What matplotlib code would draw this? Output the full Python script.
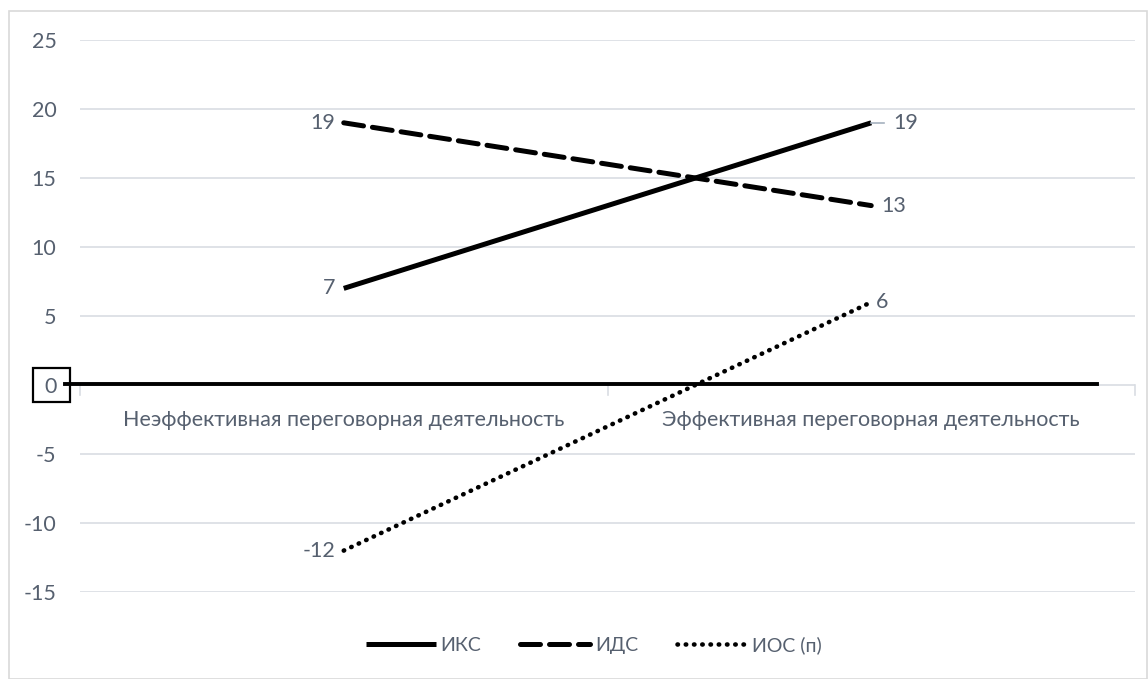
import matplotlib.pyplot as plt
from matplotlib.patches import Rectangle
from matplotlib.lines import Line2D

categories = ['Неэффективная переговорная деятельность', 'Эффективная переговорная деятельность']
iks = [7, 19]
ids = [19, 13]
ios = [-12, 6]
series_names = ['ИКС', 'ИДС', 'ИОС (п)']
yticks = [-15, -10, -5, 0, 5, 10, 15, 20, 25]

plt.rcParams['font.family'] = ['Lato', 'DejaVu Sans']
text_color = '#56606F'
grid_color = '#D9DDE3'
fs = 15.5

fig = plt.figure(figsize=(11.48, 6.79), dpi=100)
W, H = 1148, 679
ax = fig.add_axes([80 / W, 1 - 592 / H, (1135 - 80) / W, (592 - 40) / H])

x = [0, 1]
ax.plot(x, iks, color='black', lw=3.6, solid_capstyle='butt', label=series_names[0])
ax.plot(x, ids, color='black', lw=3.6, dashes=(4, 1.8), dash_capstyle='round', label=series_names[1])
ax.plot(x, ios, color='black', lw=3.3, dashes=(0.1, 1.7), dash_capstyle='round', label=series_names[2])

ax.set_xlim(-0.5, 1.5)
ax.set_ylim(-15, 25)
ax.set_yticks(yticks)
ax.set_yticklabels([str(v) for v in yticks], fontsize=fs, color=text_color)
ax.tick_params(axis='y', length=0, pad=17)
ax.set_xticks([])
ax.grid(axis='y', color=grid_color, lw=1.2)
ax.set_axisbelow(True)
for s in ax.spines.values():
    s.set_visible(False)

# category labels sit just under the zero axis
for xi, c in zip(x, categories):
    ax.text(xi, -2.5, c, ha='center', va='center', fontsize=fs, color=text_color)
for xt in [-0.5, 0.5, 1.5]:
    ax.plot([xt, xt], [0, -0.7], color=grid_color, lw=1.2, clip_on=False)

# data labels
for vals in (iks, ids, ios):
    ax.annotate(str(vals[0]), (0, vals[0]), xytext=(-6, 0), textcoords='offset points',
                ha='right', va='center', fontsize=fs, color=text_color)
for vals, off in ((iks, 16), (ids, 7), (ios, 3)):
    ax.annotate(str(vals[1]), (1, vals[1]), xytext=(off, 0), textcoords='offset points',
                ha='left', va='center', fontsize=fs, color=text_color)
ax.plot([1, 1.024], [iks[1], iks[1]], color='#A6B1BF', lw=1.2)

# thick black zero line and box around the 0 label, drawn over the figure
fig.add_artist(Line2D([65 / W, 1097 / W], [1 - 384 / H] * 2, color='black', lw=2.8))
fig.add_artist(Rectangle((33 / W, 1 - 402 / H), 37 / W, 34 / H, fill=False,
                         edgecolor='black', lw=1.6))

# outer border
fig.add_artist(Rectangle((9 / W, 0.5 / H), (W - 10) / W, (H - 11) / H, fill=False,
                         edgecolor='#D9D9D9', lw=1.2))

fig.legend(loc='center', bbox_to_anchor=(0.517, 1 - 645 / H), ncol=3, frameon=False,
           fontsize=14, labelcolor=text_color, handlelength=3.6, columnspacing=2.0,
           handletextpad=0.25)

fig.savefig('out.png', dpi=100)
